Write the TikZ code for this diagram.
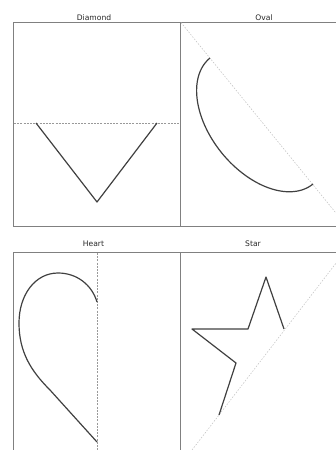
\documentclass[tikz,border=0pt]{standalone}
\usepackage{fontspec}
\setmainfont{DejaVu Sans}
\begin{document}
\begin{tikzpicture}[x=1pt,y=-1pt,
  frame/.style={draw=black!50,line width=1pt},
  guide/.style={draw=black!40,line width=0.6pt,dash pattern=on 2pt off 1.2pt},
  guidelight/.style={draw=black!25,line width=0.5pt,dash pattern=on 1.5pt off 1.5pt},
  outline/.style={draw=black!75,line width=1.2pt,line join=round},
  title/.style={font=\fontsize{7.6}{8}\selectfont,text=black!85,inner sep=0pt,anchor=base}]
\useasboundingbox (0,0) rectangle (336,450);
% frames
\draw[frame] (13.5,450) -- (13.5,252.5) -- (340,252.5);
\draw[frame] (13.5,226) rectangle (340,22.5);
\draw[frame] (180.5,22.5) -- (180.5,226);
\draw[frame] (180.5,252.5) -- (180.5,450);
% titles
\node[title] (t1) at (94,20.5) {Diamond};
\node[title] (t2) at (264,20.5) {Oval};
\node[title] (t3) at (93.5,246) {Heart};
\node[title] (t4) at (253,246) {Star};
% diamond
\draw[guide] (14,123) -- (179,123);
\draw[outline] (36,123) -- (97,202) -- (157,123);
% oval
\draw[guidelight] (181,22.5) -- (340,218);
\draw[outline] plot[domain=0:180,smooth,samples=50]
  ({261.5 + 81.4*cos(\x)*0.633 - 51*sin(\x)*0.774},
   {121 + 81.4*cos(\x)*0.774 + 51*sin(\x)*0.633});
% heart
\draw[guide] (97,253) -- (97,450);
\draw[outline] (97,302) .. controls (92,285) and (77,273) .. (58,273)
  .. controls (35,273) and (19,295) .. (19,323)
  .. controls (19,352) and (31,371) .. (50,390) -- (97,442);
% star
\draw[guidelight] (192,450) -- (340,258);
\draw[outline] (284,329) -- (266,277) -- (248,329) -- (192,329) -- (236,363) -- (219,415);
\end{tikzpicture}
\end{document}
